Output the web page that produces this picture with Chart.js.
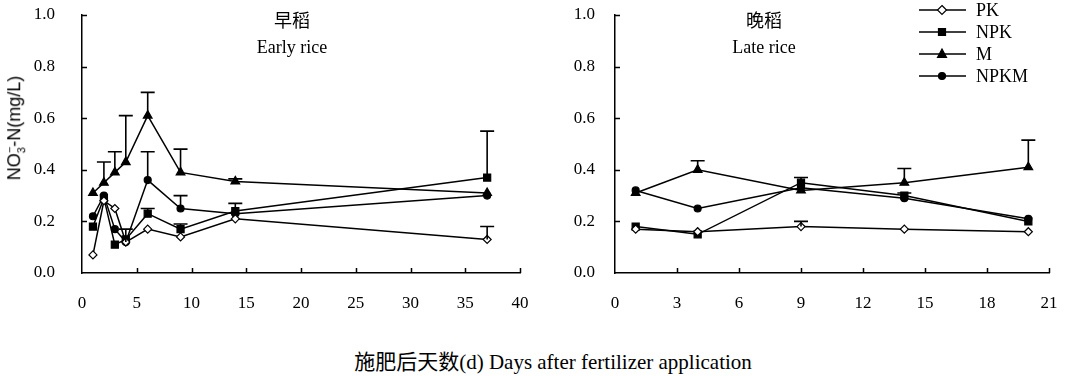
<!DOCTYPE html>
<html>
<head>
<meta charset="utf-8">
<script src="https://cdn.jsdelivr.net/npm/chart.js@4.4.0/dist/chart.umd.min.js"></script>
<style>
  body { margin: 0; background: #fff; width: 1067px; height: 376px; position: relative; overflow: hidden; }
  canvas { position: absolute; top: 0; }
  .t { position: absolute; color: #000; font-family: "Liberation Serif", "Noto Sans CJK SC", serif; white-space: nowrap; transform: translateX(-50%); }
  #ytitle { position: absolute; left: 15px; top: 128px; font-family: "Liberation Sans", sans-serif; font-size: 18px;
            transform: translate(-50%, -50%) rotate(-90deg); white-space: nowrap; }
</style>
</head>
<body>
<canvas id="left" width="560" height="330" style="left:0"></canvas>
<canvas id="right" width="537" height="330" style="left:530px"></canvas>

<div class="t" style="left:292px; top:6px; font-size:18px">早稻</div>
<div class="t" style="left:292px; top:37px; font-size:18px">Early rice</div>
<div class="t" style="left:764px; top:6px; font-size:18px">晚稻</div>
<div class="t" style="left:764px; top:37px; font-size:18px">Late rice</div>
<div id="ytitle">NO<sub style="font-size:11px">3</sub><sup style="font-size:11px;margin-left:-6px">−</sup>-N(mg/L)</div>
<div class="t" style="left:553px; top:345px; font-size:21px">施肥后天数(d) Days after fertilizer application</div>

<script>
// series order: PK, NPK, M, NPKM
const seriesNames = ['PK', 'NPK', 'M', 'NPKM'];

// early rice
const leftDays = [1, 2, 3, 4, 6, 9, 14, 37];
const leftPK = [0.07, 0.28, 0.25, 0.12, 0.17, 0.14, 0.21, 0.13];
const leftNPK = [0.18, 0.29, 0.11, 0.13, 0.23, 0.17, 0.24, 0.37];
const leftM = [0.31, 0.35, 0.39, 0.43, 0.61, 0.39, 0.355, 0.31];
const leftNPKM = [0.22, 0.30, 0.17, 0.12, 0.36, 0.25, 0.23, 0.30];
const leftPKErr = [0, 0, 0, 0, 0, 0, 0, 0.05];
const leftNPKErr = [0, 0, 0, 0, 0.02, 0.02, 0.03, 0.18];
const leftMErr = [0, 0.08, 0.08, 0.18, 0.09, 0.09, 0.01, 0];
const leftNPKMErr = [0, 0, 0, 0.05, 0.11, 0.05, 0, 0];

// late rice
const rightDays = [1, 4, 9, 14, 20];
const rightPK = [0.17, 0.16, 0.18, 0.17, 0.16];
const rightNPK = [0.18, 0.15, 0.35, 0.30, 0.20];
const rightM = [0.31, 0.40, 0.32, 0.35, 0.41];
const rightNPKM = [0.32, 0.25, 0.33, 0.29, 0.21];
const rightPKErr = [0, 0, 0.02, 0, 0];
const rightNPKErr = [0, 0, 0.02, 0.01, 0];
const rightMErr = [0, 0.035, 0, 0.055, 0.105];
const rightNPKMErr = [0, 0, 0, 0, 0];

const yTicks = [0, 0.2, 0.4, 0.6, 0.8, 1.0];

const markers = [
  { pointStyle: 'rectRot', radius: 4, fill: '#fff' },
  { pointStyle: 'rect', radius: 5, fill: '#000' },
  { pointStyle: 'triangle', radius: 5, fill: '#000' },
  { pointStyle: 'circle', radius: 3.5, fill: '#000' }
];

function makeSets(days, vals, errs) {
  return vals.map((v, k) => ({
    label: seriesNames[k],
    data: days.map((d, i) => ({ x: d, y: v[i] })),
    errors: errs[k],
    borderColor: '#000',
    borderWidth: 1.5,
    pointStyle: markers[k].pointStyle,
    pointRadius: markers[k].radius,
    pointBackgroundColor: markers[k].fill,
    pointBorderColor: '#000',
    pointBorderWidth: 1.2,
    tension: 0
  }));
}

const errorBars = {
  id: 'errorBars',
  afterDatasetsDraw(chart) {
    const ctx = chart.ctx, ys = chart.scales.y;
    chart.data.datasets.forEach((ds, di) => {
      const meta = chart.getDatasetMeta(di);
      ds.errors.forEach((e, i) => {
        if (!e) return;
        const pt = meta.data[i];
        const top = ys.getPixelForValue(ds.data[i].y + e);
        ctx.save();
        ctx.strokeStyle = '#000';
        ctx.lineWidth = 1.6;
        ctx.beginPath();
        ctx.moveTo(pt.x, pt.y);
        ctx.lineTo(pt.x, top);
        ctx.moveTo(pt.x - 7, top);
        ctx.lineTo(pt.x + 7, top);
        ctx.stroke();
        ctx.restore();
      });
    });
  }
};

// ticks point inward in the original
const innerTicks = {
  id: 'innerTicks',
  afterDraw(chart) {
    const ctx = chart.ctx, a = chart.chartArea, xs = chart.scales.x, ys = chart.scales.y;
    ctx.save();
    ctx.strokeStyle = '#000';
    ctx.lineWidth = 1.5;
    ctx.beginPath();
    xs.ticks.forEach(t => {
      if (t.value === xs.min) return;
      const px = Math.round(xs.getPixelForValue(t.value)) + 0.5;
      ctx.moveTo(px, a.bottom);
      ctx.lineTo(px, a.bottom - 5);
    });
    ys.ticks.forEach(t => {
      if (t.value === ys.min) return;
      const py = Math.round(ys.getPixelForValue(t.value)) + 0.5;
      ctx.moveTo(a.left, py);
      ctx.lineTo(a.left + 5, py);
    });
    ctx.stroke();
    ctx.restore();
  }
};

function drawMarker(ctx, k, x, y) {
  const m = markers[k];
  ctx.fillStyle = m.fill;
  ctx.strokeStyle = '#000';
  ctx.lineWidth = 1.2;
  ctx.beginPath();
  if (m.pointStyle === 'rectRot') {
    ctx.moveTo(x, y - 4.5); ctx.lineTo(x + 4.5, y); ctx.lineTo(x, y + 4.5); ctx.lineTo(x - 4.5, y); ctx.closePath();
  } else if (m.pointStyle === 'rect') {
    ctx.rect(x - 3.5, y - 3.5, 7, 7);
  } else if (m.pointStyle === 'triangle') {
    ctx.moveTo(x, y - 5); ctx.lineTo(x + 4.5, y + 3.5); ctx.lineTo(x - 4.5, y + 3.5); ctx.closePath();
  } else {
    ctx.arc(x, y, 3.5, 0, Math.PI * 2);
  }
  ctx.fill();
  ctx.stroke();
}

const legendBox = {
  id: 'legendBox',
  afterDraw(chart) {
    const ctx = chart.ctx;
    ctx.save();
    seriesNames.forEach((name, k) => {
      const y = 10 + k * 22;
      ctx.strokeStyle = '#000';
      ctx.lineWidth = 1.5;
      ctx.beginPath();
      ctx.moveTo(389, y); ctx.lineTo(436, y);
      ctx.stroke();
      drawMarker(ctx, k, 412, y);
      ctx.fillStyle = '#000';
      ctx.font = '18px "Liberation Serif"';
      ctx.textBaseline = 'middle';
      ctx.fillText(name, 446, y + 1);
    });
    ctx.restore();
  }
};

function makeChart(id, days, vals, errs, xMax, xStep, yWidth, yPad, padRight, extra) {
  return new Chart(document.getElementById(id), {
    type: 'line',
    data: { datasets: makeSets(days, vals, errs) },
    options: {
      responsive: false,
      animation: false,
      layout: { padding: { top: 15, right: padRight, left: 0, bottom: 0 } },
      plugins: { legend: { display: false }, tooltip: { enabled: false } },
      scales: {
        x: {
          type: 'linear', min: 0, max: xMax,
          grid: { display: false, drawTicks: false },
          border: { display: true, color: '#000', width: 1.5 },
          ticks: { stepSize: xStep, color: '#000', padding: 20, maxRotation: 0,
                   font: { family: 'Liberation Serif', size: 17 } },
          afterFit: s => { s.height = 57; s.paddingLeft = 0; s.paddingRight = 0; }
        },
        y: {
          min: 0, max: 1,
          grid: { display: false, drawTicks: false },
          border: { display: true, color: '#000', width: 1.5 },
          afterBuildTicks: s => { s.ticks = yTicks.map(v => ({ value: v })); },
          ticks: { color: '#000', padding: yPad, font: { family: 'Liberation Serif', size: 17 },
                   callback: v => v.toFixed(1) },
          afterFit: s => { s.width = yWidth; s.paddingTop = 0; s.paddingBottom = 0; }
        }
      }
    },
    plugins: [errorBars, innerTicks].concat(extra)
  });
}

makeChart('left', leftDays, [leftPK, leftNPK, leftM, leftNPKM],
  [leftPKErr, leftNPKErr, leftMErr, leftNPKMErr], 40, 5, 82, 27, 40, []);
makeChart('right', rightDays, [rightPK, rightNPK, rightM, rightNPKM],
  [rightPKErr, rightNPKErr, rightMErr, rightNPKMErr], 21, 3, 85, 20, 18, [legendBox]);
</script>
</body>
</html>
